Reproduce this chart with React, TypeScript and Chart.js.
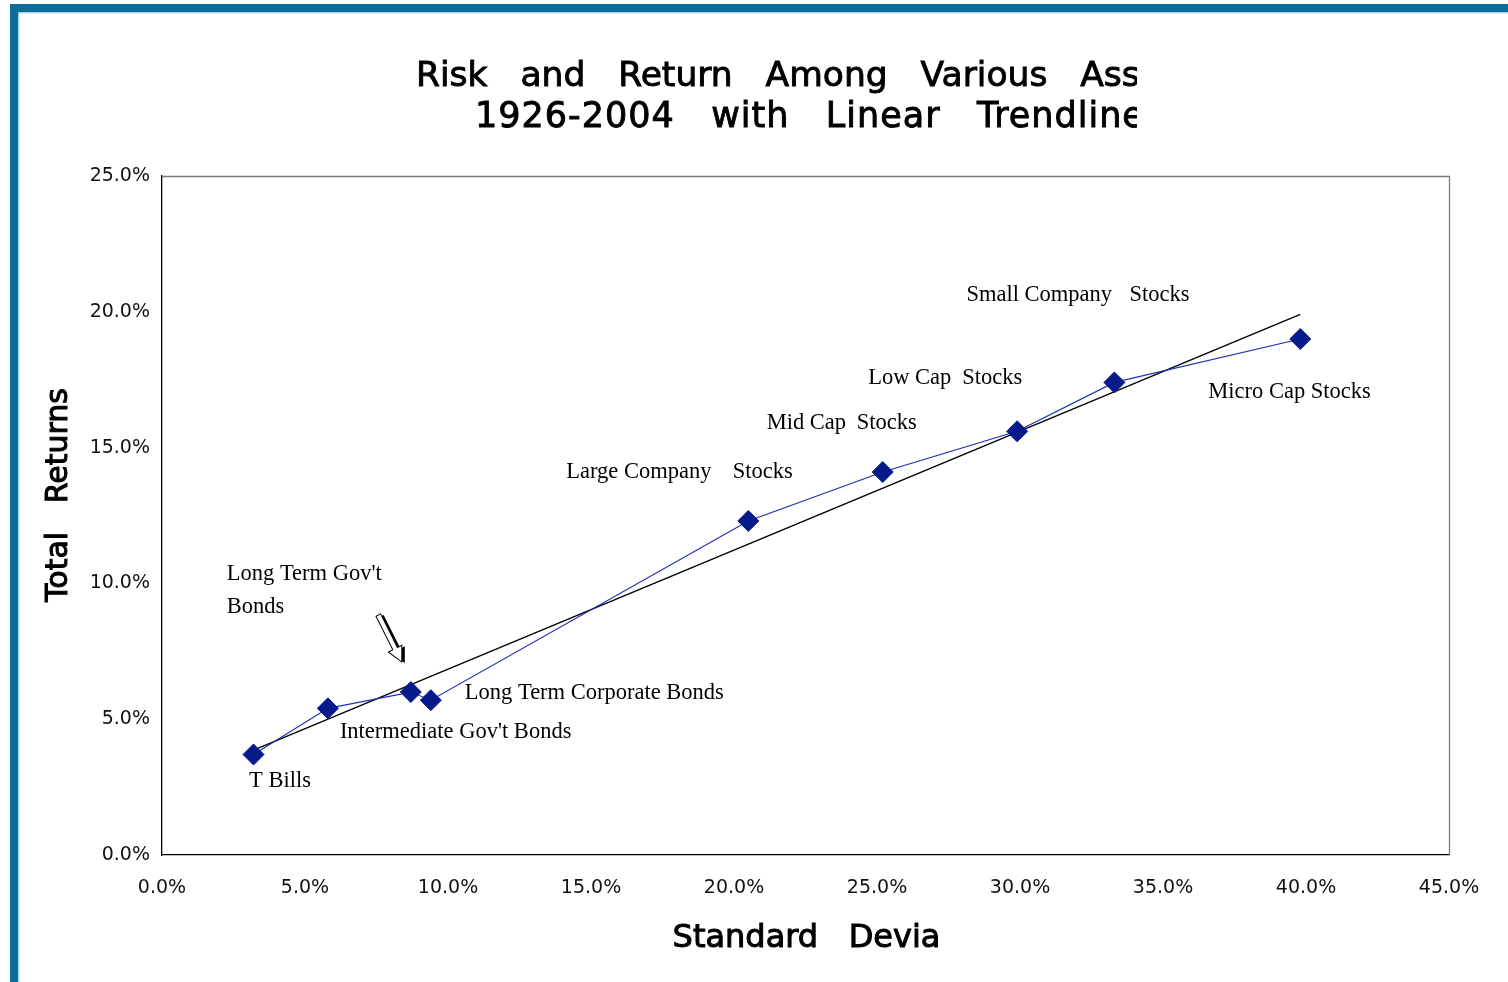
import { useEffect, useRef } from "react";
import { Chart, registerables } from "chart.js";

Chart.register(...registerables);

// Asset classes, 1926-2004: annual standard deviation and total return (percent)
const assetClasses = [
  "T Bills",
  "Intermediate Gov't Bonds",
  "Long Term Gov't Bonds",
  "Long Term Corporate Bonds",
  "Large Company Stocks",
  "Mid Cap Stocks",
  "Low Cap Stocks",
  "Small Company Stocks",
  "Micro Cap Stocks",
];
const stdDeviation = [3.2, 5.8, 8.7, 9.4, 20.5, 25.2, 29.9, 33.3, 39.8];
const totalReturns = [3.7, 5.4, 6.0, 5.7, 12.3, 14.1, 15.6, 17.4, 19.0];

const xTicks = [0, 5, 10, 15, 20, 25, 30, 35, 40, 45];
const yTicks = [0, 5, 10, 15, 20, 25];

const titleLines = [
  "Risk   and   Return   Among   Various   Assets",
  "1926-2004   with   Linear   Trendline",
];
const xAxisTitle = "Standard   Devia";
const yAxisTitle = "Total   Returns";

const W = 1508;
const H = 982;

// Where each point's caption sits, relative to the point (pixels).
// splitDx places the final word separately; lines breaks the caption.
type Placement = {
  dx: number;
  dy: number;
  splitDx?: number;
  lines?: number;
  arrow?: { tx: number; ty: number; hx: number; hy: number };
};
const placements: Placement[] = [
  { dx: -4.5, dy: 32 },
  { dx: 12, dy: 30 },
  { dx: -184, dy: -112, lines: 33, arrow: { tx: -32.5, ty: -77, hx: -9, hy: -30 } },
  { dx: 34, dy: -1 },
  { dx: -182, dy: -43, splitDx: -15.6 },
  { dx: -116, dy: -43, splitDx: -26 },
  { dx: -149, dy: -47, splitDx: -55 },
  { dx: -148, dy: -81, splitDx: 15 },
  { dx: -92, dy: 59 },
];

function linearFit(xs: number[], ys: number[]) {
  const n = xs.length;
  const mx = xs.reduce((a, b) => a + b, 0) / n;
  const my = ys.reduce((a, b) => a + b, 0) / n;
  let sxy = 0;
  let sxx = 0;
  for (let i = 0; i < n; i++) {
    sxy += (xs[i] - mx) * (ys[i] - my);
    sxx += (xs[i] - mx) * (xs[i] - mx);
  }
  const slope = sxy / sxx;
  return { slope, intercept: my - slope * mx };
}

function drawBlockArrow(ctx: CanvasRenderingContext2D, x0: number, y0: number, x1: number, y1: number) {
  const ang = Math.atan2(y1 - y0, x1 - x0);
  const len = Math.hypot(x1 - x0, y1 - y0);
  const sw = 2.6;
  const hw = 7.5;
  const hl = 15;
  const path = () => {
    ctx.beginPath();
    ctx.moveTo(0, -sw);
    ctx.lineTo(len - hl, -sw);
    ctx.lineTo(len - hl, -hw);
    ctx.lineTo(len, 0);
    ctx.lineTo(len - hl, hw);
    ctx.lineTo(len - hl, sw);
    ctx.lineTo(0, sw);
    ctx.closePath();
  };
  ctx.save();
  ctx.translate(x0 + 3, y0 + 1);
  ctx.rotate(ang);
  path();
  ctx.fillStyle = "#000";
  ctx.fill();
  ctx.restore();
  ctx.save();
  ctx.translate(x0, y0);
  ctx.rotate(ang);
  path();
  ctx.fillStyle = "#fff";
  ctx.fill();
  ctx.strokeStyle = "#000";
  ctx.lineWidth = 1;
  ctx.stroke();
  ctx.restore();
}

const decorPlugin = {
  id: "decor",
  beforeDraw(chart: Chart) {
    const ctx = chart.ctx;
    ctx.save();
    ctx.fillStyle = "#fff";
    ctx.fillRect(0, 0, W, H);
    // teal frame along the top and left edges
    ctx.fillStyle = "#0a6e98";
    ctx.fillRect(10, 4, W - 10, 8.3);
    ctx.fillRect(10, 4, 8.3, H - 4);
    ctx.fillStyle = "#a9cfe0";
    ctx.fillRect(18.3, 12.3, W, 1);
    ctx.fillRect(18.3, 12.3, 1, H);
    ctx.restore();
  },
  beforeDatasetsDraw(chart: Chart) {
    const { ctx, chartArea: a } = chart;
    ctx.save();
    ctx.strokeStyle = "#7a7a7a";
    ctx.lineWidth = 1.3;
    ctx.beginPath();
    ctx.moveTo(a.left, a.top + 0.5);
    ctx.lineTo(a.right + 0.5, a.top + 0.5);
    ctx.lineTo(a.right + 0.5, a.bottom);
    ctx.stroke();
    ctx.restore();
  },
  afterDatasetsDraw(chart: Chart) {
    const ctx = chart.ctx;
    const meta = chart.getDatasetMeta(0);
    ctx.save();
    ctx.font = '22.5px "Liberation Serif"';
    ctx.fillStyle = "#000";
    ctx.textAlign = "left";
    ctx.textBaseline = "alphabetic";
    meta.data.forEach((el, i) => {
      const p = placements[i];
      const name = assetClasses[i];
      const x = el.x + p.dx;
      const y = el.y + p.dy;
      if (p.lines) {
        const cut = name.lastIndexOf(" ");
        ctx.fillText(name.slice(0, cut), x, y);
        ctx.fillText(name.slice(cut + 1), x, y + p.lines);
      } else if (p.splitDx !== undefined) {
        const cut = name.lastIndexOf(" ");
        ctx.fillText(name.slice(0, cut), x, y);
        ctx.fillText(name.slice(cut + 1), el.x + p.splitDx, y);
      } else {
        ctx.fillText(name, x, y);
      }
      if (p.arrow) {
        drawBlockArrow(ctx, el.x + p.arrow.tx, el.y + p.arrow.ty, el.x + p.arrow.hx, el.y + p.arrow.hy);
      }
    });
    ctx.restore();
  },
  afterDraw(chart: Chart) {
    const { ctx, chartArea: a } = chart;
    ctx.save();
    // chart title, cut off on the right
    ctx.beginPath();
    ctx.rect(0, 0, 1137, H);
    ctx.clip();
    ctx.fillStyle = "#000";
    ctx.strokeStyle = "#000";
    ctx.lineWidth = 0.9;
    ctx.textAlign = "left";
    ctx.textBaseline = "alphabetic";
    ctx.font = '34.5px "DejaVu Sans"';
    ctx.fillText(titleLines[0], 416, 86);
    ctx.strokeText(titleLines[0], 416, 86);
    ctx.font = '35px "DejaVu Sans"';
    (ctx as any).letterSpacing = "1px";
    ctx.fillText(titleLines[1], 475, 127);
    ctx.strokeText(titleLines[1], 475, 127);
    (ctx as any).letterSpacing = "0px";
    ctx.restore();

    // axis titles
    ctx.save();
    ctx.fillStyle = "#000";
    ctx.strokeStyle = "#000";
    ctx.lineWidth = 1;
    ctx.textAlign = "center";
    ctx.textBaseline = "alphabetic";
    ctx.font = '32px "DejaVu Sans"';
    const cx = (a.left + a.right) / 2 + 1;
    ctx.fillText(xAxisTitle, cx, 946.5);
    ctx.strokeText(xAxisTitle, cx, 946.5);
    ctx.translate(67, 495);
    ctx.rotate(-Math.PI / 2);
    ctx.font = '30px "DejaVu Sans"';
    ctx.fillText(yAxisTitle, 0, 0);
    ctx.strokeText(yAxisTitle, 0, 0);
    ctx.restore();
  },
};

export default function App() {
  const canvasRef = useRef<HTMLCanvasElement | null>(null);

  useEffect(() => {
    const canvas = canvasRef.current;
    if (!canvas) return;
    const fit = linearFit(stdDeviation, totalReturns);
    const xMin = Math.min(...stdDeviation);
    const xMax = Math.max(...stdDeviation);
    const trend = [xMin, xMax].map((x) => ({ x, y: fit.intercept + fit.slope * x }));

    const tickFont = { family: "DejaVu Sans", size: 19 };
    const pct = (v: number | string) => Number(v).toFixed(1) + "%";

    const chart = new Chart(canvas, {
      type: "scatter",
      data: {
        datasets: [
          {
            label: "Total Returns",
            data: stdDeviation.map((x, i) => ({ x, y: totalReturns[i] })),
            showLine: true,
            borderColor: "#1f30b0",
            borderWidth: 1.2,
            backgroundColor: "#071a8c",
            pointStyle: "rectRot",
            pointRadius: 10.5,
            pointBorderColor: "#071a8c",
            pointBorderWidth: 1,
            order: 1,
          },
          {
            label: "Linear Trendline",
            data: trend,
            showLine: true,
            borderColor: "#000",
            borderWidth: 1.4,
            pointRadius: 0,
            order: 2,
          },
        ],
      },
      options: {
        responsive: false,
        animation: false,
        devicePixelRatio: 1,
        layout: { padding: { top: 176, right: 59, bottom: 0, left: 0 } },
        plugins: {
          legend: { display: false },
          tooltip: { enabled: false },
          title: { display: false },
        },
        scales: {
          x: {
            type: "linear",
            position: "bottom",
            min: xTicks[0],
            max: xTicks[xTicks.length - 1],
            ticks: {
              stepSize: xTicks[1] - xTicks[0],
              callback: pct,
              font: tickFont,
              color: "#111",
              padding: 22,
              maxRotation: 0,
              autoSkip: false,
            },
            grid: { display: false, drawTicks: false },
            border: { display: true, color: "#000", width: 1.3 },
            afterFit: (s: any) => {
              s.height = 127;
            },
          },
          y: {
            type: "linear",
            min: yTicks[0],
            max: yTicks[yTicks.length - 1],
            ticks: {
              stepSize: yTicks[1] - yTicks[0],
              callback: pct,
              font: tickFont,
              color: "#111",
              padding: 12,
              autoSkip: false,
            },
            grid: { display: false, drawTicks: false },
            border: { display: true, color: "#000", width: 1.3 },
            afterFit: (s: any) => {
              s.width = 162;
            },
          },
        },
      },
      plugins: [decorPlugin],
    });
    return () => chart.destroy();
  }, []);

  return (
    <div style={{ position: "fixed", left: 0, top: 0, width: W, height: H, background: "#fff" }}>
      <canvas ref={canvasRef} width={W} height={H} style={{ display: "block" }} />
    </div>
  );
}
